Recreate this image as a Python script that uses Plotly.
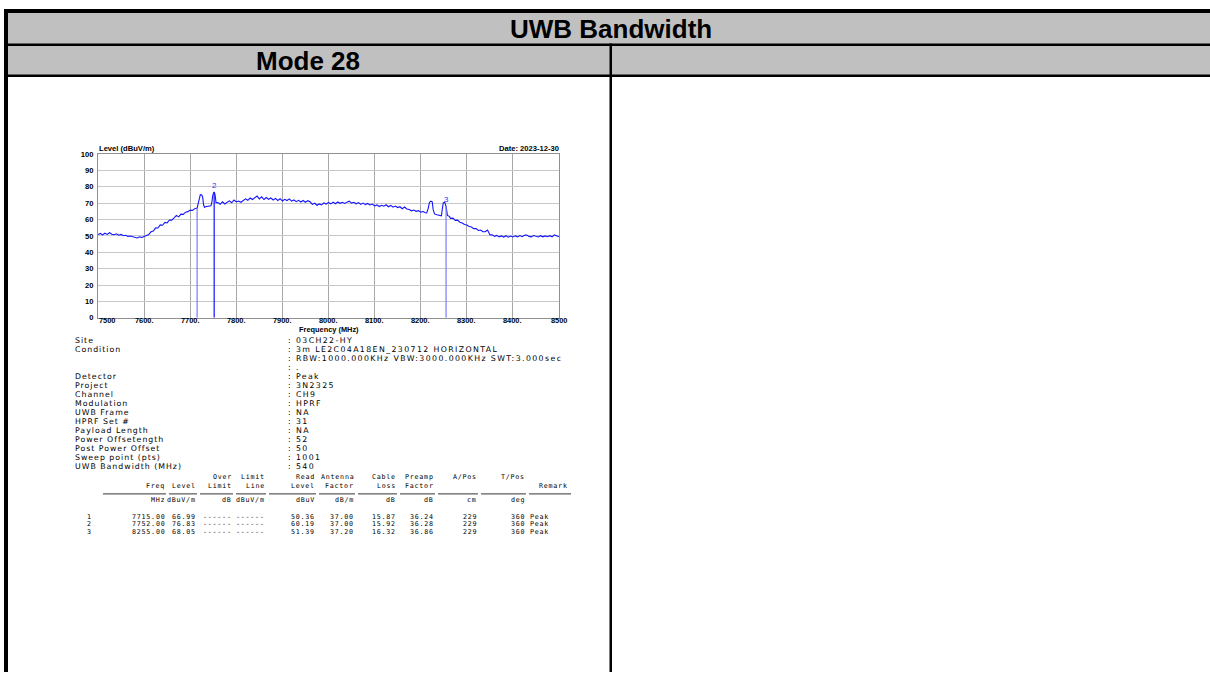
import plotly.graph_objects as go

W, H = 1210, 677

# ---------------- data ----------------
freq_mhz = [
    7500, 7505, 7510, 7515, 7520, 7525, 7530, 7535, 7540, 7545, 7550, 7555, 7560, 7565, 7570, 7575,
    7580, 7585, 7590, 7595, 7600, 7605, 7610, 7615, 7620, 7625, 7630, 7635, 7640, 7645, 7650, 7655,
    7660, 7665, 7670, 7675, 7680, 7685, 7690, 7695, 7700, 7705, 7710, 7715, 7718, 7720, 7722, 7725,
    7727, 7729, 7731, 7735, 7740, 7745, 7747, 7749, 7752, 7754, 7756, 7760, 7765, 7770, 7775, 7780,
    7785, 7790, 7795, 7800, 7805, 7810, 7815, 7820, 7825, 7830, 7835, 7840, 7845, 7850, 7855, 7860,
    7865, 7870, 7875, 7880, 7885, 7890, 7895, 7900, 7905, 7910, 7915, 7920, 7925, 7930, 7935, 7940,
    7945, 7950, 7955, 7960, 7965, 7970, 7975, 7980, 7985, 7990, 7995, 8000, 8005, 8010, 8015, 8020,
    8025, 8030, 8035, 8040, 8045, 8050, 8055, 8060, 8065, 8070, 8075, 8080, 8085, 8090, 8095, 8100,
    8105, 8110, 8115, 8120, 8125, 8130, 8135, 8140, 8145, 8150, 8155, 8160, 8165, 8170, 8175, 8180,
    8185, 8190, 8195, 8200, 8205, 8210, 8213, 8216, 8219, 8222, 8225, 8227, 8230, 8235, 8240, 8245,
    8247, 8249, 8252, 8255, 8258, 8262, 8265, 8270, 8275, 8280, 8285, 8290, 8295, 8300, 8305, 8310,
    8315, 8320, 8325, 8330, 8335, 8340, 8345, 8350, 8355, 8360, 8365, 8370, 8375, 8380, 8385, 8390,
    8395, 8400, 8405, 8410, 8415, 8420, 8425, 8430, 8435, 8440, 8445, 8450, 8455, 8460, 8465, 8470,
    8475, 8480, 8485, 8490, 8495, 8500,
]
level_dbuv = [
    50.8, 51.5, 50.6, 51.6, 50.9, 51.9, 51.0, 50.7, 51.3, 50.4, 50.9, 50.1, 50.4, 49.7, 49.9, 49.4,
    49.1, 48.7, 49.4, 49.0, 49.6, 50.3, 50.8, 52.5, 52.9, 54.9, 54.8, 56.7, 56.5, 58.2, 57.9, 59.7,
    59.6, 61.0, 62.5, 61.6, 63.3, 63.1, 64.5, 64.8, 65.7, 65.5, 66.6, 66.99, 70.2, 74.0, 75.2, 75.0,
    73.8, 69.0, 67.5, 67.9, 68.2, 68.4, 70.5, 74.9, 76.83, 75.1, 70.3, 70.4, 69.3, 70.8, 69.5, 70.6,
    71.4, 70.2, 71.9, 70.7, 71.3, 70.5, 71.6, 72.6, 71.7, 73.1, 72.2, 73.5, 74.3, 72.6, 73.8, 72.2,
    73.4, 72.3, 73.1, 71.9, 72.9, 71.6, 72.7, 71.3, 72.3, 71.6, 72.6, 71.2, 71.9, 70.9, 71.7, 70.7,
    71.6, 70.5, 71.5, 70.8, 69.2, 69.9, 68.7, 69.5, 68.9, 70.1, 69.4, 70.4, 69.5, 70.6, 69.6, 70.7,
    69.9, 70.5, 69.8, 70.6, 71.2, 70.0, 70.5, 69.6, 70.3, 69.2, 70.0, 69.1, 69.8, 68.9, 69.4, 68.3,
    68.9, 67.9, 68.7, 68.1, 69.0, 67.8, 68.6, 67.5, 68.2, 67.3, 67.8, 66.6, 67.6, 66.4, 66.1, 65.3,
    65.8, 65.0, 65.4, 64.5, 64.9, 64.1, 64.0, 66.5, 70.4, 71.2, 70.8, 66.0, 63.4, 62.9, 62.6, 62.3,
    66.8, 70.1, 70.6, 68.05, 62.5, 61.9, 60.7, 60.8, 59.5, 59.6, 58.3, 57.9, 56.9, 56.6, 55.7, 55.4,
    54.4, 54.5, 53.3, 53.6, 52.5, 52.5, 53.6, 50.7, 50.6, 49.7, 50.3, 49.4, 50.0, 49.3, 50.1, 49.2,
    49.9, 49.3, 50.0, 49.4, 50.2, 49.5, 50.3, 50.5, 49.7, 49.4, 50.2, 49.6, 49.3, 50.1, 49.4, 50.0,
    49.5, 50.1, 49.4, 50.6, 50.1, 49.4,
]

marker_no = ["1", "2", "3"]
marker_freq = [7715.00, 7752.00, 8255.00]
marker_level = [66.99, 76.83, 68.05]
marker_label_shown = [False, True, True]

x_tick_vals = [7500, 7600, 7700, 7800, 7900, 8000, 8100, 8200, 8300, 8400, 8500]
x_tick_text = ["7500", "7600.", "7700.", "7800.", "7900.", "8000.", "8100.", "8200.", "8300.", "8400.", "8500"]
y_tick_vals = [0, 10, 20, 30, 40, 50, 60, 70, 80, 90, 100]

title_text = "UWB Bandwidth"
mode_text = "Mode 28"
y_title = "Level (dBuV/m)"
x_title = "Frequency (MHz)"
date_text = "Date: 2023-12-30"

info_labels = ["Site", "Condition", "", "", "Detector", "Project", "Channel", "Modulation",
               "UWB Frame", "HPRF Set #", "Payload Length", "Power Offsetength",
               "Post Power Offset", "Sweep point (pts)", "UWB Bandwidth (MHz)"]
info_values = [": 03CH22-HY", ": 3m LE2C04A18EN_230712 HORIZONTAL",
               ": RBW:1000.000KHz VBW:3000.000KHz SWT:3.000sec", ": .", ": Peak", ": 3N2325",
               ": CH9", ": HPRF", ": NA", ": 31", ": NA", ": 52", ": 50", ": 1001", ": 540"]

hdr_line1 = ["", "", "Over", "Limit", "Read", "Antenna", "Cable", "Preamp", "A/Pos", "T/Pos"]
hdr_line2 = ["Freq", "Level", "Limit", "Line", "Level", "Factor", "Loss", "Factor", "", ""]
hdr_units = ["MHz", "dBuV/m", "dB", "dBuV/m", "dBuV", "dB/m", "dB", "dB", "cm", "deg"]
remark_header = "Remark"
row_over = ["------", "------", "------"]
row_limit = ["------", "------", "------"]
row_read = [50.36, 60.19, 51.39]
row_ant = [37.00, 37.00, 37.20]
row_cable = [15.87, 15.92, 16.32]
row_preamp = [36.24, 36.28, 36.86]
row_apos = [229, 229, 229]
row_tpos = [360, 360, 360]
row_remark = ["Peak", "Peak", "Peak"]

# ---------------- layout helpers ----------------
def px(x):
    return x / W

def py(y):
    return 1 - y / H

fig = go.Figure()

fig.add_trace(go.Scatter(x=freq_mhz, y=level_dbuv, mode="lines",
                         line=dict(color="#1414ff", width=1.1), hoverinfo="skip",
                         showlegend=False))
marker_colors = ["#7a7aff", "#1010ff", "#7a7aff"]
for f, lv, c in zip(marker_freq, marker_level, marker_colors):
    fig.add_trace(go.Scatter(x=[f, f], y=[0, lv], mode="lines",
                             line=dict(color=c, width=1.2), hoverinfo="skip",
                             showlegend=False))

ann = []
for n, f, lv, show in zip(marker_no, marker_freq, marker_level, marker_label_shown):
    if show:
        ann.append(dict(x=f, y=lv + 0.8, xref="x", yref="y", text=n, showarrow=False,
                        yanchor="bottom", borderpad=0,
                        font=dict(family="Liberation Sans", size=8, color="#3030ff")))

# x tick labels
tick_font = dict(family="Liberation Sans", size=7.4, color="#000", weight="bold")
for v, t in zip(x_tick_vals, x_tick_text):
    xa = "left" if v == x_tick_vals[0] else "center"
    ann.append(dict(x=v, y=py(321), xref="x", yref="paper", text=t, showarrow=False,
                    xanchor=xa, yanchor="middle", borderpad=0, font=tick_font))

bold8 = dict(family="Liberation Sans", size=7.6, color="#000", weight="bold")
ann.append(dict(x=px(98), y=py(152), xref="paper", yref="paper", text=y_title, showarrow=False,
                xanchor="left", yanchor="bottom", borderpad=0, font=bold8))
ann.append(dict(x=px(560), y=py(152), xref="paper", yref="paper", text=date_text, showarrow=False,
                xanchor="right", yanchor="bottom", borderpad=0, font=bold8))
ann.append(dict(x=px(329), y=py(329.4), xref="paper", yref="paper", text=x_title, showarrow=False,
                xanchor="center", yanchor="middle", borderpad=0, font=tick_font))

# titles
title_font = dict(family="Liberation Sans", size=26, color="#000", weight="bold")
ann.append(dict(x=px(611), y=py(25), xref="paper", yref="paper", text=title_text, showarrow=False,
                xanchor="center", yanchor="middle", font=title_font))
ann.append(dict(x=px(308), y=py(58), xref="paper", yref="paper", text=mode_text, showarrow=False,
                xanchor="center", yanchor="middle", font=title_font))

# info block
info_font = dict(family="DejaVu Sans", size=7.8, color="#000")
def spaced(s, ls):
    return f'<span style="letter-spacing:{ls}px">{s}</span>'

for i, (lab, val) in enumerate(zip(info_labels, info_values)):
    yy = 341 + i * 9.15
    if lab:
        ann.append(dict(x=px(74), y=py(yy), xref="paper", yref="paper", text=spaced(lab, 1.0),
                        showarrow=False, xanchor="left", yanchor="middle", borderpad=0,
                        font=info_font))
    ann.append(dict(x=px(287), y=py(yy), xref="paper", yref="paper", text=spaced(val, 1.4),
                    showarrow=False, xanchor="left", yanchor="middle", borderpad=0,
                    font=info_font))

# measurement table
mono = dict(family="DejaVu Sans Mono", size=6.7, color="#000")
col_right = [165, 196, 232, 265, 315, 354, 396, 434, 477, 525]
col_left = [103, 169, 200, 236, 269, 319, 358, 400, 438, 481]

def txt(x, y, s, anchor="right"):
    ann.append(dict(x=px(x), y=py(y), xref="paper", yref="paper", text=spaced(s, 0.75),
                    showarrow=False, xanchor=anchor, yanchor="middle", borderpad=0, font=mono))

for xr, a, b, u in zip(col_right, hdr_line1, hdr_line2, hdr_units):
    if a:
        txt(xr + 1, 479.5, a)
    if b:
        txt(xr + 1, 488, b)
    txt(xr + 1, 503, u)
txt(538, 489, remark_header, "left")

rows = []
for i in range(3):
    rows.append([f"{marker_freq[i]:.2f}", f"{marker_level[i]:.2f}", row_over[i], row_limit[i],
                 f"{row_read[i]:.2f}", f"{row_ant[i]:.2f}", f"{row_cable[i]:.2f}",
                 f"{row_preamp[i]:.2f}", str(row_apos[i]), str(row_tpos[i])])
for i, r in enumerate(rows):
    yy = 519.5 + i * 8.0
    txt(89, yy, marker_no[i], "center")
    for xr, s in zip(col_right, r):
        txt(xr + 1, yy, s)
    txt(529, yy, row_remark[i], "left")

shapes = []
# underline segments
for xl, xr in zip(col_left, col_right):
    shapes.append(dict(type="line", xref="paper", yref="paper", x0=px(xl), x1=px(xr + 1),
                       y0=py(496.5), y1=py(496.5), line=dict(color="#000", width=0.8)))
shapes.append(dict(type="line", xref="paper", yref="paper", x0=px(529), x1=px(571),
                   y0=py(496.5), y1=py(496.5), line=dict(color="#000", width=0.8)))

# table frame
def rect(x0, y0, x1, y1, color):
    shapes.append(dict(type="rect", xref="paper", yref="paper", x0=px(x0), x1=px(x1),
                       y0=py(y1), y1=py(y0), fillcolor=color, line=dict(width=0), layer="below"))

rect(6, 7, W, 73, "#c0c0c0")
rect(4, 5, W, 9, "#000")
rect(4, 5, 8, H, "#000")
rect(4, 40, W, 42.5, "#000")
rect(4, 71.5, W, 74, "#000")
rect(609.5, 40, 612, H, "#000")

fig.update_layout(
    width=W, height=H, margin=dict(l=0, r=0, t=0, b=0),
    paper_bgcolor="#fff", plot_bgcolor="#fff", showlegend=False,
    annotations=ann, shapes=shapes,
    xaxis=dict(domain=[px(98), px(559)], range=[7500, 8500], tickvals=x_tick_vals,
               showticklabels=False, showgrid=True, gridcolor="#a8a8a8", gridwidth=1,
               showline=True, linecolor="#909090", mirror=True, zeroline=False, ticks=""),
    yaxis=dict(domain=[py(318), py(152)], range=[0, 100], tickvals=y_tick_vals,
               showgrid=True, gridcolor="#c8c8c8", gridwidth=1, showline=True,
               linecolor="#909090", mirror=True, zeroline=False, ticks="",
               tickfont=dict(family="Liberation Sans", size=7.6, color="#000", weight="bold"),
               ticklabelstandoff=2),
)

fig.write_html("out.html", config={"displayModeBar": False},
               post_script="document.body.style.margin='0px';")
